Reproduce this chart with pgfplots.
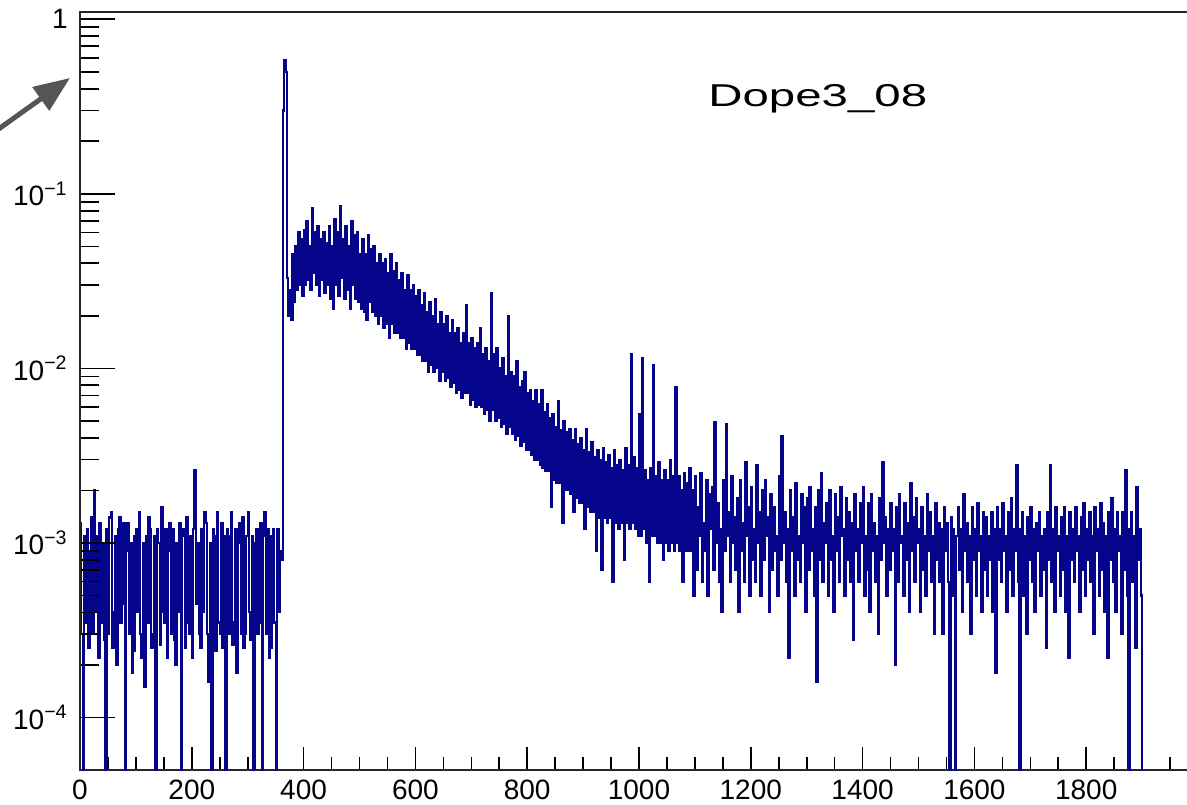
\documentclass[border=0pt]{standalone}
\usepackage{fontspec}
\setmainfont{Liberation Sans}
\usepackage{pgfplots}
\pgfplotsset{compat=1.18}
\usepackage{pgfplotstable}
\usetikzlibrary{arrows.meta}
\definecolor{histblue}{RGB}{5,5,140}
\definecolor{arrowgray}{RGB}{85,85,85}
\pgfplotstableread{
x y
0 1.3e-3
2.5 3e-4
5 1e-5
7.5 1.1e-3
10 3.5e-4
12.5 1.2e-3
15 2.5e-4
17.5 9e-4
20 1.4e-3
22.5 3e-4
25 2.0e-3
27.5 4e-4
30 1.1e-3
32.5 2.2e-4
35 1.3e-3
37.5 3.5e-4
40 1.0e-3
42.5 2.8e-4
45 1e-5
47.5 1.2e-3
50 3e-4
52.5 1.4e-3
55 1.5e-3
57.5 2.5e-4
60 4e-4
62.5 1.1e-3
65 2e-4
67.5 1.2e-3
70 1.4e-3
72.5 3.5e-4
75 4.5e-4
77.5 1.3e-3
80 1e-5
82.5 9e-4
85 1.3e-3
87.5 3e-4
90 1.0e-3
92.5 1.8e-4
95 2.4e-4
97.5 1.1e-3
100 1.2e-3
102.5 4e-4
105 1.5e-3
107.5 3e-4
110 2.2e-4
112.5 1.0e-3
115 1.5e-4
117.5 1.1e-3
120 3.5e-4
122.5 1.4e-3
125 1.2e-3
127.5 2.5e-4
130 3e-4
132.5 1.1e-3
135 1e-5
137.5 1.2e-3
140 1.0e-3
142.5 2.6e-4
145 1.6e-3
147.5 4e-4
150 3.5e-4
152.5 1.2e-3
155 2.2e-4
157.5 9e-4
160 1.3e-3
162.5 3e-4
165 1.2e-3
167.5 2.8e-4
170 2e-4
172.5 1.0e-3
175 4e-4
177.5 1.3e-3
180 1e-5
182.5 1.1e-3
185 1.2e-3
187.5 2.5e-4
190 1.4e-3
192.5 3.5e-4
195 3e-4
197.5 1.1e-3
200 2.2e-4
202.5 1.2e-3
205 2.6e-3
207.5 4.5e-4
210 1.0e-3
212.5 3e-4
215 2.5e-4
217.5 1.2e-3
220 4e-4
222.5 1.5e-3
225 1.3e-3
227.5 3e-4
230 1.6e-4
232.5 1.0e-3
235 1e-5
237.5 1.2e-3
240 1.1e-3
242.5 2.4e-4
245 1.5e-3
247.5 3.5e-4
250 3e-4
252.5 1.3e-3
255 2.5e-4
257.5 1.1e-3
260 1e-5
262.5 1.2e-3
265 1.1e-3
267.5 3e-4
270 1.5e-3
272.5 2.6e-4
275 3.5e-4
277.5 1.2e-3
280 1.8e-4
282.5 1.0e-3
285 1.3e-3
287.5 3e-4
290 1.4e-3
292.5 2.5e-4
295 3e-4
297.5 1.1e-3
300 1.5e-3
302.5 4e-4
305 2.8e-4
307.5 1.1e-3
310 1e-5
312.5 1.0e-3
315 1.2e-3
317.5 3e-4
320 3.5e-4
322.5 1.3e-3
325 1e-5
327.5 1.1e-3
330 1.5e-3
332.5 3e-4
335 1.2e-3
337.5 2.2e-4
340 2.5e-4
342.5 1.1e-3
345 1.2e-3
347.5 3.5e-4
350 1e-5
352.5 1.2e-3
355 4e-4
357.5 9e-4
360 8e-4
362.5 0.30
365 0.58
367.5 0.50
370 0.033
372.5 0.020
375 0.028
377.5 0.019
380 0.045
382.5 0.024
385 0.05
387.5 0.028
390 0.06
392.5 0.03
395 0.055
397.5 0.026
400 0.062
402.5 0.03
405 0.07
407.5 0.032
410 0.05
412.5 0.028
415 0.083
417.5 0.035
420 0.06
422.5 0.03
425 0.065
427.5 0.026
430 0.055
432.5 0.032
435 0.06
437.5 0.027
440 0.052
442.5 0.03
445 0.065
447.5 0.025
450 0.05
452.5 0.022
455 0.072
457.5 0.03
460 0.06
462.5 0.026
465 0.085
467.5 0.033
470 0.055
472.5 0.025
475 0.065
477.5 0.028
480 0.05
482.5 0.022
485 0.07
487.5 0.03
490 0.058
492.5 0.025
495 0.06
497.5 0.024
500 0.045
502.5 0.022
505 0.055
507.5 0.021
510 0.045
512.5 0.019
515 0.058
517.5 0.024
520 0.048
522.5 0.021
525 0.05
527.5 0.02
530 0.04
532.5 0.018
535 0.045
537.5 0.02
540 0.04
542.5 0.017
545 0.042
547.5 0.018
550 0.035
552.5 0.015
555 0.045
557.5 0.018
560 0.036
562.5 0.016
565 0.04
567.5 0.016
570 0.032
572.5 0.015
575 0.035
577.5 0.015
580 0.028
582.5 0.013
585 0.034
587.5 0.014
590 0.028
592.5 0.013
595 0.03
597.5 0.013
600 0.026
602.5 0.012
605 0.028
607.5 0.012
610 0.023
612.5 0.011
615 0.027
617.5 0.011
620 0.021
622.5 0.0095
625 0.024
627.5 0.0105
630 0.02
632.5 0.0095
635 0.025
637.5 0.01
640 0.018
642.5 0.0085
645 0.021
647.5 0.0095
650 0.018
652.5 0.0085
655 0.02
657.5 0.0088
660 0.016
662.5 0.0078
665 0.019
667.5 0.0082
670 0.016
672.5 0.0072
675 0.017
677.5 0.0075
680 0.014
682.5 0.0068
685 0.016
687.5 0.0072
690 0.023
692.5 0.0072
695 0.014
697.5 0.0062
700 0.015
702.5 0.0066
705 0.013
707.5 0.006
710 0.014
712.5 0.0062
715 0.017
717.5 0.006
720 0.012
722.5 0.0055
725 0.013
727.5 0.0058
730 0.011
732.5 0.005
735 0.027
737.5 0.0058
740 0.012
742.5 0.005
745 0.013
747.5 0.0052
750 0.0100
752.5 0.0046
755 0.0115
757.5 0.0048
760 0.009
762.5 0.0042
765 0.02
767.5 0.0046
770 0.0095
772.5 0.0042
775 0.009
777.5 0.0039
780 0.011
782.5 0.0041
785 0.0078
787.5 0.0036
790 0.0085
792.5 0.0038
795 0.0095
797.5 0.0034
800 0.0072
802.5 0.0034
805 0.0075
807.5 0.0032
810 0.0065
812.5 0.003
815 0.0075
817.5 0.003
820 0.0062
822.5 0.0028
825 0.0075
827.5 0.0027
830 0.0056
832.5 0.0026
835 0.0062
837.5 0.0026
840 0.0052
842.5 0.0016
845 0.0055
847.5 0.0023
850 0.0046
852.5 0.0022
855 0.0065
857.5 0.0022
860 0.0044
862.5 0.0013
865 0.005
867.5 0.002
870 0.0043
872.5 0.002
875 0.0045
877.5 0.0019
880 0.0039
882.5 0.0015
885 0.0045
887.5 0.0018
890 0.0037
892.5 0.0017
895 0.004
897.5 0.0017
900 0.0034
902.5 0.0012
905 0.0045
907.5 0.0016
910 0.0033
912.5 0.0015
915 0.0038
917.5 0.0015
920 0.0031
922.5 0.0009
925 0.0034
927.5 0.0014
930 0.003
932.5 0.0007
935 0.0035
937.5 0.0014
940 0.0029
942.5 0.0013
945 0.0032
947.5 0.0014
950 0.0027
952.5 0.0006
955 0.0034
957.5 0.0013
960 0.0028
962.5 0.0012
965 0.003
967.5 0.0013
970 0.0026
972.5 0.0008
975 0.0035
977.5 0.0013
980 0.0028
982.5 0.0012
985 0.012
987.5 0.0013
990 0.0031
992.5 0.0012
995 0.0027
997.5 0.0011
1000 0.0055
1002.5 0.0011
1005 0.0115
1007.5 0.0012
1010 0.0026
1012.5 0.001
1015 0.0023
1017.5 0.0006
1020 0.0027
1022.5 0.0011
1025 0.0105
1027.5 0.0011
1030 0.0024
1032.5 0.001
1035 0.0029
1037.5 0.001
1040 0.0023
1042.5 0.0008
1045 0.0026
1047.5 0.001
1050 0.0023
1052.5 0.0009
1055 0.003
1057.5 0.001
1060 0.0024
1062.5 0.0009
1065 0.0078
1067.5 0.001
1070 0.0024
1072.5 0.0009
1075 0.002
1077.5 0.0006
1080 0.0025
1082.5 0.0009
1085 0.0022
1087.5 0.0009
1090 0.0027
1092.5 0.0009
1095 0.002
1097.5 0.0005
1100 0.0024
1102.5 0.0007
1105 0.0016
1107.5 0.0011
1110 0.0025
1112.5 0.0006
1115 0.0013
1117.5 0.0009
1120 0.0023
1122.5 0.0005
1125 0.0019
1127.5 0.0012
1130 0.0021
1132.5 0.0007
1135 0.0049
1137.5 0.001
1140 0.0017
1142.5 0.0006
1145 0.0012
1147.5 0.0004
1150 0.0023
1152.5 0.0009
1155 0.0048
1157.5 0.0011
1160 0.0015
1162.5 0.0006
1165 0.0024
1167.5 0.001
1170 0.0014
1172.5 0.0007
1175 0.0018
1177.5 0.0004
1180 0.0023
1182.5 0.0009
1185 0.0013
1187.5 0.0006
1190 0.0029
1192.5 0.0011
1195 0.0016
1197.5 0.0005
1200 0.0021
1202.5 0.0008
1205 0.0012
1207.5 0.0006
1210 0.0028
1212.5 0.001
1215 0.0015
1217.5 0.0005
1220 0.002
1222.5 0.0008
1225 0.0023
1227.5 0.0011
1230 0.0014
1232.5 0.0004
1235 0.0019
1237.5 0.0007
1240 0.0016
1242.5 0.0009
1245 0.0011
1247.5 0.0005
1250 0.0024
1252.5 0.0008
1255 0.0041
1257.5 0.001
1260 0.0015
1262.5 0.0006
1265 0.0012
1267.5 0.00022
1270 0.002
1272.5 0.0009
1275 0.0014
1277.5 0.0005
1280 0.0022
1282.5 0.0008
1285 0.0011
1287.5 0.0006
1290 0.0019
1292.5 0.001
1295 0.0016
1297.5 0.0004
1300 0.0018
1302.5 0.0007
1305 0.0021
1307.5 0.0009
1310 0.0012
1312.5 0.0005
1315 0.0016
1317.5 0.00016
1320 0.002
1322.5 0.0008
1325 0.0025
1327.5 0.0006
1330 0.0013
1332.5 0.001
1335 0.0017
1337.5 0.0005
1340 0.002
1342.5 0.0008
1345 0.0011
1347.5 0.0004
1350 0.0019
1352.5 0.0009
1355 0.0014
1357.5 0.0006
1360 0.0021
1362.5 0.0011
1365 0.0012
1367.5 0.0005
1370 0.0018
1372.5 0.0008
1375 0.0015
1377.5 0.0006
1380 0.0013
1382.5 0.00028
1385 0.0019
1387.5 0.0009
1390 0.0012
1392.5 0.0006
1395 0.0017
1397.5 0.001
1400 0.0021
1402.5 0.0005
1405 0.0011
1407.5 0.0007
1410 0.0017
1412.5 0.0004
1415 0.0019
1417.5 0.0009
1420 0.0013
1422.5 0.0006
1425 0.0011
1427.5 0.0003
1430 0.0018
1432.5 0.0008
1435 0.0029
1437.5 0.001
1440 0.0014
1442.5 0.0005
1445 0.0012
1447.5 0.0007
1450 0.0017
1452.5 0.0009
1455 0.0012
1457.5 0.0002
1460 0.0016
1462.5 0.0006
1465 0.0019
1467.5 0.001
1470 0.0011
1472.5 0.0005
1475 0.0017
1477.5 0.0008
1480 0.0013
1482.5 0.0004
1485 0.0022
1487.5 0.0009
1490 0.0014
1492.5 0.0006
1495 0.0018
1497.5 0.001
1500 0.0012
1502.5 0.0004
1505 0.0016
1507.5 0.0007
1510 0.0011
1512.5 0.0005
1515 0.0019
1517.5 0.0009
1520 0.0015
1522.5 0.0006
1525 0.0011
1527.5 0.0003
1530 0.0017
1532.5 0.0008
1535 0.0013
1537.5 0.0006
1540 0.0012
1542.5 0.0003
1545 0.0016
1547.5 0.0009
1550 0.0013
1552.5 0.0006
1555 1e-5
1557.5 0.0014
1560 0.0012
1562.5 0.0005
1565 1e-5
1567.5 0.0011
1570 0.0016
1572.5 0.0007
1575 0.0012
1577.5 0.0004
1580 0.0019
1582.5 0.0009
1585 0.0013
1587.5 0.0006
1590 0.0011
1592.5 0.0003
1595 0.0016
1597.5 0.0008
1600 0.0012
1602.5 0.0005
1605 0.0017
1607.5 0.0009
1610 0.0011
1612.5 0.0004
1615 0.0015
1617.5 0.0007
1620 0.0014
1622.5 0.0005
1625 0.0011
1627.5 0.0008
1630 0.0015
1632.5 0.0004
1635 0.0012
1637.5 0.00018
1640 0.0016
1642.5 0.0008
1645 0.0012
1647.5 0.0006
1650 0.0017
1652.5 0.0009
1655 0.0011
1657.5 0.0004
1660 0.0015
1662.5 0.0007
1665 0.0018
1667.5 0.0005
1670 0.0012
1672.5 0.0009
1675 0.0028
1677.5 0.0006
1680 1e-5
1682.5 0.0012
1685 0.0015
1687.5 0.0005
1690 0.0011
1692.5 0.0003
1695 0.0014
1697.5 0.0008
1700 0.0016
1702.5 0.0006
1705 0.0012
1707.5 0.0004
1710 0.0013
1712.5 0.0009
1715 0.0015
1717.5 0.0005
1720 0.0011
1722.5 0.0007
1725 0.0012
1727.5 0.00025
1730 0.0015
1732.5 0.0008
1735 0.0028
1737.5 0.0006
1740 0.0012
1742.5 0.0004
1745 0.0016
1747.5 0.0009
1750 0.0011
1752.5 0.0005
1755 0.0014
1757.5 0.0007
1760 0.0016
1762.5 0.0004
1765 0.0011
1767.5 0.00022
1770 0.0015
1772.5 0.0008
1775 0.0012
1777.5 0.0006
1780 0.0016
1782.5 0.0009
1785 0.0011
1787.5 0.0004
1790 0.0014
1792.5 0.0007
1795 0.0017
1797.5 0.0005
1800 0.0012
1802.5 0.0008
1805 0.0015
1807.5 0.0006
1810 0.0011
1812.5 0.0003
1815 0.0016
1817.5 0.0009
1820 0.0012
1822.5 0.0005
1825 0.0017
1827.5 0.0007
1830 0.0013
1832.5 0.0004
1835 0.0011
1837.5 0.00022
1840 0.0015
1842.5 0.0008
1845 0.0018
1847.5 0.0006
1850 0.0012
1852.5 0.0004
1855 0.0015
1857.5 0.0009
1860 0.0011
1862.5 0.0003
1865 0.0015
1867.5 0.0007
1870 0.0026
1872.5 0.0005
1875 1e-5
1877.5 0.0012
1880 0.0015
1882.5 0.0006
1885 0.0011
1887.5 0.00025
1890 0.0021
1892.5 0.0008
1895 0.0012
1897.5 0.0005
1900 1e-5
}\histdata
\begin{document}
\begin{tikzpicture}
\clip (0,0) rectangle (593.5bp,402.5bp);
\useasboundingbox (0,0) rectangle (593.5bp,402.5bp);
% main axis: frame, data, x ticks
\begin{axis}[
  at={(40bp,17.5bp)}, anchor=south west,
  scale only axis, width=559bp, height=379bp,
  xmin=0, xmax=2000,
  ymode=log, ymin=5e-5, ymax=1.1,
  axis line style={line width=1bp, black!85},
  tick align=inside,
  xtick pos=left,
  xtick={0,200,400,600,800,1000,1200,1400,1600,1800},
  xticklabels={0,200,400,600,800,1000,1200,1400,1600,1800},
  minor xtick={50,100,150,250,300,350,450,500,550,650,700,750,850,900,950,1050,1100,1150,1250,1300,1350,1450,1500,1550,1650,1700,1750,1850,1900,1950},
  major tick length=11.5bp, minor tick length=6.5bp,
  every tick/.style={black, line width=0.8bp},
  xticklabel style={font=\fontsize{14bp}{16bp}\selectfont, anchor=north, inner sep=0pt, yshift=-5bp},
  ytick=\empty, yminorticks=false,
  clip=true,
]
\addplot[const plot mark left, color=histblue, line width=1.1bp, line join=miter] table[x=x, y=y] {\histdata};
\end{axis}
% second axis: y ticks and labels
\begin{axis}[
  at={(40bp,17.5bp)}, anchor=south west,
  scale only axis, width=559bp, height=379bp,
  xmin=0, xmax=2000,
  ymode=log, ymin=5e-5, ymax=1.1,
  hide x axis,
  axis line style={line width=1bp, black!85},
  tick align=inside,
  ytick pos=left,
  ytick={1e-4,1e-3,1e-2,1e-1,1},
  yticklabels={10\textsuperscript{−4},10\textsuperscript{−3},10\textsuperscript{−2},10\textsuperscript{−1},1},
  major tick length=17.5bp, minor tick length=9.5bp,
  every tick/.style={black, line width=0.8bp},
  yticklabel style={font=\fontsize{14bp}{16bp}\selectfont, anchor=east, inner sep=0pt, xshift=-6bp},
]
\addplot[draw=none] coordinates {(0,1e-3)};
\end{axis}
\node[anchor=base west, inner sep=0pt] at (354bp,349bp) {\scalebox{1.5}[1]{\fontsize{15.8bp}{18bp}\selectfont Dope3\_08}};
\draw[arrowgray, line width=2.5bp, -{Triangle[length=18bp,width=14bp]}] (-5bp,334.9bp) -- (35bp,363.5bp);
\end{tikzpicture}
\end{document}
